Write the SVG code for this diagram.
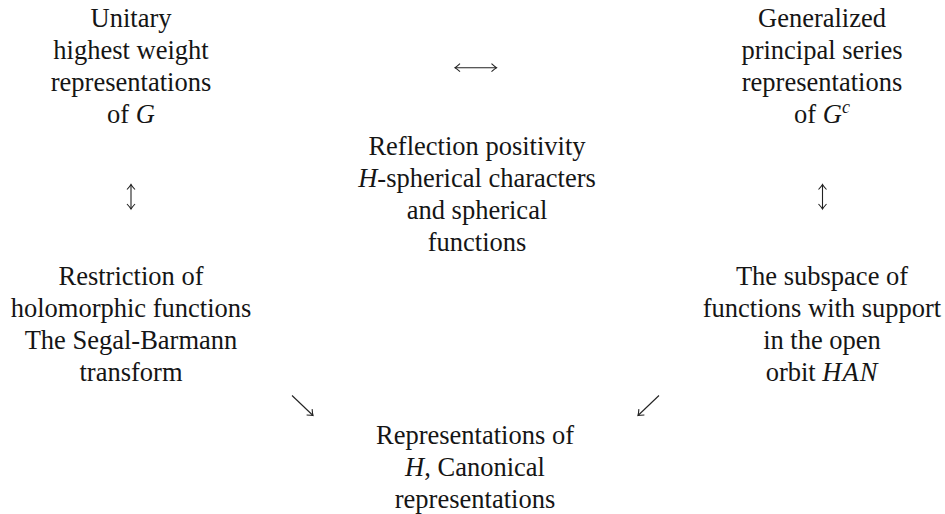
<svg xmlns="http://www.w3.org/2000/svg" width="945" height="514" viewBox="0 0 945 514">
<style>
text{font-family:'Liberation Serif','Times New Roman',serif;font-size:26.5px;fill:#151515;text-anchor:middle}
.i{font-style:italic}
.sup{font-style:italic;font-size:18px}
.conn path{stroke:#222;stroke-width:1.1;fill:none}
</style>
<defs>
<marker id="ah" viewBox="-6 -5 8 10" markerWidth="8" markerHeight="10" refX="0" refY="0" orient="auto-start-reverse" markerUnits="userSpaceOnUse">
<path d="M-5,-4 Q-1.5,-0.8 0,0 Q-1.5,0.8 -5,4" stroke="#222" stroke-width="1.1" fill="none"/>
</marker>
</defs>
<rect width="945" height="514" fill="#fff"/>
<g id="node-unitary">
<text x="131" y="27">Unitary</text>
<text x="131" y="59">highest weight</text>
<text x="131" y="91">representations</text>
<text x="131" y="123">of <tspan class="i">G</tspan></text>
</g>
<g id="node-principal">
<text x="822" y="27">Generalized</text>
<text x="822" y="59">principal series</text>
<text x="822" y="91">representations</text>
<text x="822" y="123">of <tspan class="i">G</tspan><tspan class="sup" dy="-10">c</tspan></text>
</g>
<g id="node-reflection">
<text x="477" y="155">Reflection positivity</text>
<text x="477" y="187"><tspan class="i">H</tspan>-spherical characters</text>
<text x="477" y="219">and spherical</text>
<text x="477" y="251">functions</text>
</g>
<g id="node-restriction">
<text x="131" y="285">Restriction of</text>
<text x="131" y="317">holomorphic functions</text>
<text x="131" y="349">The Segal-Barmann</text>
<text x="131" y="381">transform</text>
</g>
<g id="node-subspace">
<text x="822" y="285">The subspace of</text>
<text x="822" y="317">functions with support</text>
<text x="822" y="349">in the open</text>
<text x="822" y="381">orbit <tspan class="i" letter-spacing="1">HAN</tspan></text>
</g>
<g id="node-representations">
<text x="475" y="444">Representations of</text>
<text x="475" y="476"><tspan class="i">H</tspan>, Canonical</text>
<text x="475" y="508">representations</text>
</g>
<g class="conn" id="connectors">
<path d="M455,67.7 H496.5" marker-start="url(#ah)" marker-end="url(#ah)"/>
<path d="M131,184.5 V209" marker-start="url(#ah)" marker-end="url(#ah)"/>
<path d="M822.5,184.5 V209" marker-start="url(#ah)" marker-end="url(#ah)"/>
<path d="M292,395.5 L313,415.5" marker-end="url(#ah)"/>
<path d="M659,395.5 L638,415.5" marker-end="url(#ah)"/>
</g>
</svg>
